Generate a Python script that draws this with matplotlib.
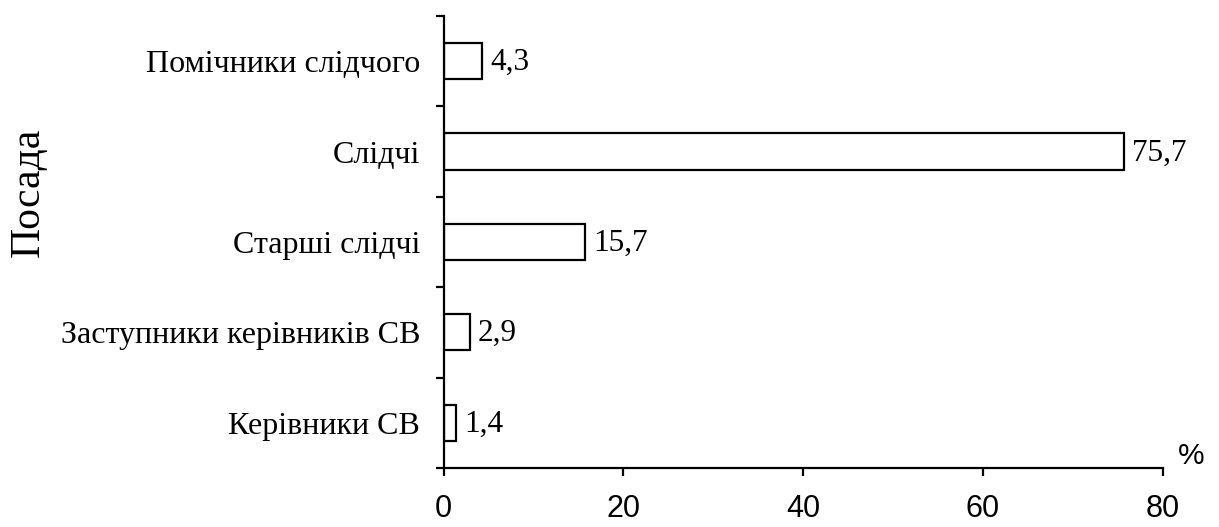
import matplotlib
matplotlib.use("Agg")
import matplotlib.pyplot as plt

categories = ["Керівники СВ", "Заступники керівників СВ", "Старші слідчі", "Слідчі", "Помічники слідчого"]
values = [1.4, 2.9, 15.7, 75.7, 4.3]
value_labels = ["1,4", "2,9", "15,7", "75,7", "4,3"]
xticks = [0, 20, 40, 60, 80]

fig = plt.figure(figsize=(12.19, 5.27), dpi=100)
ax = fig.add_axes([0.364, 0.112, 0.5898, 0.8578])

pos = list(range(len(categories)))
ax.barh(pos, values, height=0.4, color="white", edgecolor="black", linewidth=1.6)
for p, v, lab in zip(pos, values, value_labels):
    ax.annotate(lab, (v, p), xytext=(6, -1), textcoords="offset points",
                ha="left", va="center", fontsize=22.5, family="Liberation Serif")

ax.set_xlim(0, 80)
ax.set_ylim(-0.5, 4.5)
ax.set_xticks(xticks)
ax.set_xticklabels([str(t) for t in xticks], family="Liberation Sans", fontsize=22)
ax.set_yticks([p - 0.5 for p in pos] + [4.5])
ax.set_yticklabels([])
ax.set_yticks(pos, minor=True)
ax.set_yticklabels(categories, minor=True, family="Liberation Serif", fontsize=23)
ax.tick_params(axis="y", which="minor", length=0, pad=17)
ax.tick_params(axis="y", which="major", length=6, width=1.6, direction="out")
ax.tick_params(axis="x", length=6, width=1.6, direction="out", pad=13)

for s in ["top", "right"]:
    ax.spines[s].set_visible(False)
for s in ["left", "bottom"]:
    ax.spines[s].set_linewidth(1.6)

fig.text(28 / 1219, 1 - 192 / 527, "Посада", rotation=90, ha="center", va="center",
         family="Liberation Serif", fontsize=30)
ax.text(1.04, -0.005, "%", transform=ax.transAxes, ha="center", va="bottom",
        family="Liberation Sans", fontsize=21.5)

fig.savefig("out.png", dpi=100)
